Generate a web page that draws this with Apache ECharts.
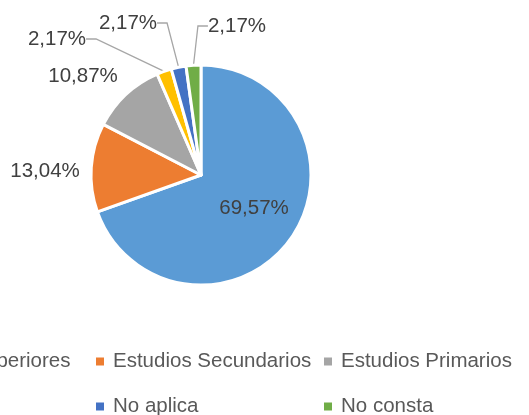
<!DOCTYPE html>
<html>
<head>
<meta charset="utf-8">
<script src="https://cdn.jsdelivr.net/npm/echarts@6/dist/echarts.min.js"></script>
<style>
  html, body { margin: 0; padding: 0; background: #fff; }
  #chart { width: 529px; height: 415px; }
</style>
</head>
<body>
<div id="chart"></div>
<script>
// datos del gráfico
var categorias = ["Estudios Superiores", "Estudios Secundarios", "Estudios Primarios", "Sin estudios", "No aplica", "No consta"];
var valores = [32, 6, 5, 1, 1, 1];
var colores = ["#5B9BD5", "#ED7D31", "#A5A5A5", "#FFC000", "#4472C4", "#70AD47"];
var conLinea = [false, false, false, true, true, true];

// posicion de cada etiqueta (centro del texto)
var etiquetas = [[254, 208], [45, 171], [83, 76], [57, 39], [128, 23], [237, 26]];

var total = valores.reduce(function (a, b) { return a + b; }, 0);

var chart = echarts.init(document.getElementById("chart"));

var datos = categorias.map(function (c, i) {
  return {
    name: c,
    value: valores[i],
    itemStyle: { color: colores[i] },
    labelLine: { show: conLinea[i] }
  };
});

// leyenda: una por celda para alinear columnas como en Excel
function leyenda(nombre, x, y) {
  return {
    data: [nombre],
    left: x,
    top: y,
    padding: 0,
    icon: "rect",
    itemWidth: 8,
    itemHeight: 8,
    itemStyle: { borderWidth: 0 },
    selectedMode: false,
    textStyle: {
      fontFamily: "Liberation Sans",
      fontSize: 20.5,
      color: "#595959",
      padding: [0, 0, 0, 4]
    }
  };
}

chart.setOption({
  animation: false,
  legend: [
    leyenda(categorias[0], -130, 351),
    leyenda(categorias[1], 96, 351),
    leyenda(categorias[2], 324, 351),
    leyenda(categorias[3], -140, 396),
    leyenda(categorias[4], 96, 396),
    leyenda(categorias[5], 324, 396)
  ],
  series: [
    {
      type: "pie",
      center: [201, 175],
      radius: 110,
      startAngle: 90,
      clockwise: true,
      avoidLabelOverlap: false,
      itemStyle: { borderColor: "#fff", borderWidth: 3 },
      label: {
        show: true,
        position: "outside",
        fontFamily: "Liberation Sans",
        fontSize: 20.5,
        color: "#404040",
        formatter: function (p) {
          return (p.value / total * 100).toFixed(2).replace(".", ",") + "%";
        }
      },
      labelLine: {
        length: 10,
        length2: 10,
        lineStyle: { color: "#A6A6A6", width: 1.3 }
      },
      labelLayout: function (p) {
        var e = etiquetas[p.dataIndex];
        return { x: e[0], y: e[1], align: "center", verticalAlign: "middle" };
      },
      data: datos
    }
  ]
});
</script>
</body>
</html>
